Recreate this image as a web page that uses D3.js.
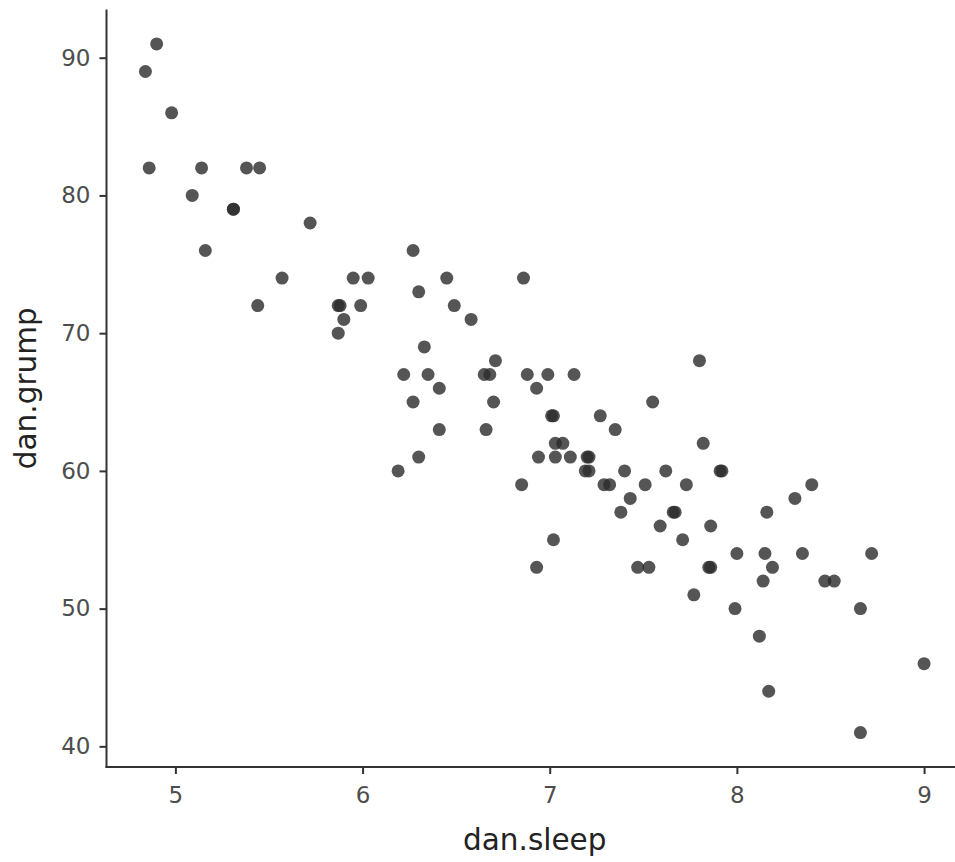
<!DOCTYPE html>
<html>
<head>
<meta charset="utf-8">
<script src="https://cdn.jsdelivr.net/npm/d3@7"></script>
<style>
  html, body { margin: 0; padding: 0; background: #fff; }
  svg { display: block; }
</style>
</head>
<body>
<svg id="chart" width="955" height="862"></svg>
<script>
const danSleep = [
  4.90, 4.84, 4.98,
  4.86, 5.14, 5.38, 5.45,
  5.09, 5.31, 5.31, 5.72,
  5.16, 6.27,
  5.57, 5.95, 6.03, 6.45, 6.86,
  6.30,
  5.44, 5.87, 5.88, 5.99, 6.49,
  5.90, 6.58,
  5.87, 6.33,
  6.71, 7.80,
  6.22, 6.35, 6.65, 6.68, 6.88, 6.99, 7.13,
  6.41, 6.93,
  6.27, 6.70, 7.55,
  7.01, 7.02, 7.27,
  6.41, 6.66, 7.35,
  7.03, 7.07, 7.82,
  6.30, 6.94, 7.03, 7.11, 7.20, 7.21,
  6.19, 7.19, 7.21, 7.40, 7.62, 7.91, 7.92,
  6.85, 7.29, 7.32, 7.51, 7.73, 8.40,
  7.43, 8.31,
  7.38, 7.66, 7.67, 8.16,
  7.59, 7.86,
  7.02, 7.71,
  8.00, 8.15, 8.35, 8.72,
  6.93, 7.47, 7.53, 7.85, 7.86, 8.19,
  8.14, 8.47, 8.52,
  7.77,
  7.99, 8.66,
  8.12, 9.00, 8.17, 8.66
];
const danGrump = [
  91, 89, 86,
  82, 82, 82, 82,
  80, 79, 79, 78,
  76, 76,
  74, 74, 74, 74, 74,
  73,
  72, 72, 72, 72, 72,
  71, 71,
  70, 69,
  68, 68,
  67, 67, 67, 67, 67, 67, 67,
  66, 66,
  65, 65, 65,
  64, 64, 64,
  63, 63, 63,
  62, 62, 62,
  61, 61, 61, 61, 61, 61,
  60, 60, 60, 60, 60, 60, 60,
  59, 59, 59, 59, 59, 59,
  58, 58,
  57, 57, 57, 57,
  56, 56,
  55, 55,
  54, 54, 54, 54,
  53, 53, 53, 53, 53, 53,
  52, 52, 52,
  51,
  50, 50,
  48, 46, 44, 41
];
const xTicks = [5, 6, 7, 8, 9];
const yTicks = [40, 50, 60, 70, 80, 90];
const xLabel = "dan.sleep";
const yLabel = "dan.grump";

const svg = d3.select("#chart");
const panel = { left: 106.5, right: 963, top: 9.5, bottom: 767 };

const xMin = d3.min(danSleep), xMax = d3.max(danSleep);
const yMin = d3.min(danGrump), yMax = d3.max(danGrump);
const xPad = (xMax - xMin) * 0.05, yPad = (yMax - yMin) * 0.05;

const x = d3.scaleLinear().domain([xMin - xPad, xMax + xPad]).range([panel.left, panel.right]);
const y = d3.scaleLinear().domain([yMin - yPad, yMax + yPad]).range([panel.bottom, panel.top]);

const font = "'DejaVu Sans', sans-serif";

// points
const data = danSleep.map((s, i) => ({ s, g: danGrump[i] }));
svg.append("g")
  .selectAll("circle")
  .data(data)
  .join("circle")
  .attr("cx", d => x(d.s))
  .attr("cy", d => y(d.g))
  .attr("r", 6.5)
  .attr("fill", "#2b2b2b")
  .attr("fill-opacity", 0.8);

// x axis
const xAxis = svg.append("g")
  .attr("transform", `translate(0,${panel.bottom})`)
  .call(d3.axisBottom(x).tickValues(xTicks).tickFormat(d3.format("d")).tickSizeOuter(0).tickSize(7).tickPadding(13));
// y axis
const yAxis = svg.append("g")
  .attr("transform", `translate(${panel.left},0)`)
  .call(d3.axisLeft(y).tickValues(yTicks).tickFormat(d3.format("d")).tickSizeOuter(0).tickSize(7).tickPadding(9));

[xAxis, yAxis].forEach(a => {
  a.select(".domain").attr("stroke", "#333").attr("stroke-width", 2);
  a.selectAll(".tick line").attr("stroke", "#333").attr("stroke-width", 2);
  a.selectAll(".tick text")
    .attr("fill", "#4d4d4d")
    .style("font-family", font)
    .style("font-size", "23px");
});
yAxis.select(".domain").attr("d", `M0,${panel.top}V${panel.bottom + 1}`);
xAxis.select(".domain").attr("d", `M${panel.left - 1},0H${panel.right}`);

// axis titles
svg.append("text")
  .attr("x", (panel.left + panel.right) / 2)
  .attr("y", 850)
  .attr("text-anchor", "middle")
  .attr("fill", "#222")
  .style("font-family", font)
  .style("font-size", "29.5px")
  .text(xLabel);

svg.append("text")
  .attr("transform", `translate(36,${(panel.top + panel.bottom) / 2}) rotate(-90)`)
  .attr("text-anchor", "middle")
  .attr("fill", "#222")
  .style("font-family", font)
  .style("font-size", "29.5px")
  .text(yLabel);
</script>
</body>
</html>
